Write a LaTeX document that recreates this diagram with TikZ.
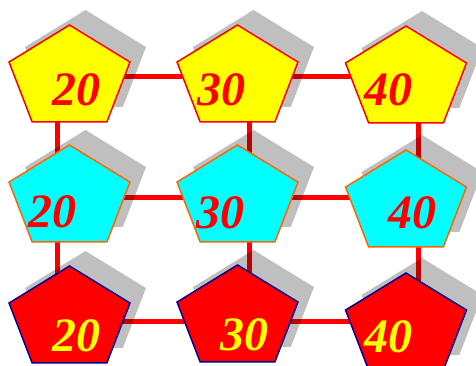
\documentclass[tikz,border=0pt]{standalone}
\usepackage{fontspec}
\setmainfont{Liberation Serif}
\usepackage{xcolor}
\usetikzlibrary{shapes.geometric, shadows, backgrounds}
\definecolor{pentyellow}{RGB}{255,255,0}
\definecolor{pentcyan}{RGB}{0,255,255}
\definecolor{pentred}{RGB}{255,0,0}
\definecolor{pentorange}{RGB}{255,102,0}
\definecolor{pentnavy}{RGB}{0,0,140}

\begin{document}
\begin{tikzpicture}[
  x=1pt, y=1pt,
  pent/.style={regular polygon, regular polygon sides=5, minimum size=107.2pt, inner sep=0pt,
    xscale=1.186, transform shape, line width=1.5pt,
    general shadow={shadow xshift=16pt, shadow yshift=15pt, fill=black, opacity=.25}},
  yellowpent/.style={pent, fill=pentyellow, draw=pentred},
  cyanpent/.style={pent, fill=pentcyan, draw=pentorange},
  redpent/.style={pent, fill=pentred, draw=pentnavy},
  num/.style={inner sep=0pt, font=\bfseries\itshape\fontsize{48}{48}\selectfont},
  link/.style={-, draw=pentred, line width=5pt}
]
\useasboundingbox (0,0) rectangle (476,365);

\node[yellowpent] (top1) at (69.5, 286.4) {};
\node[yellowpent] (top2) at (237.5, 286.4) {};
\node[yellowpent] (top3) at (406, 285.4) {};
\node[cyanpent] (mid1) at (69.5, 166.4) {};
\node[cyanpent] (mid2) at (237.5, 166.4) {};
\node[cyanpent] (mid3) at (406, 161.4) {};
\node[redpent] (bot1) at (69.5, 45.4) {};
\node[redpent] (bot2) at (237.5, 46.4) {};
\node[redpent] (bot3) at (406, 38.4) {};

\node[num, text=pentred] (ttop1) at (76, 275.5) {20};
\node[num, text=pentred] (ttop2) at (221, 275) {30};
\node[num, text=pentred] (ttop3) at (388, 275) {40};
\node[num, text=pentred] (tmid1) at (52, 153) {20};
\node[num, text=pentred] (tmid2) at (220, 152.5) {30};
\node[num, text=pentred] (tmid3) at (412.5, 152.5) {40};
\node[num, text=pentyellow] (tbot1) at (76, 29.5) {20};
\node[num, text=pentyellow] (tbot2) at (244, 30) {30};
\node[num, text=pentyellow] (tbot3) at (388, 28.5) {40};

\begin{scope}[on background layer]
\draw [link] ([yshift=2.6pt]top1.center) -- ([yshift=2.6pt]top2.center);
\draw [link] ([yshift=2.6pt]top2.center) -- ([yshift=2.6pt]top2.center -| top3.center);
\draw [link] ([yshift=1.3pt]mid1.center) -- ([yshift=1.3pt]mid2.center);
\draw [link] ([yshift=1.3pt]mid2.center) -- ([yshift=1.3pt]mid2.center -| mid3.center);
\draw [link] ([yshift=-2.1pt]bot1.center) -- ([yshift=-2.1pt]bot1.center -| bot2.center);
\draw [link] ([yshift=-2.1pt]bot1.center -| bot2.center) -- ([yshift=-2.1pt]bot1.center -| bot3.center);
\draw [link] ([xshift=-12.5pt]top1.center) -- ([xshift=-12.5pt]mid1.center);
\draw [link] ([xshift=-12.5pt]mid1.center) -- ([xshift=-12.5pt]bot1.center);
\draw [link] ([xshift=11.5pt]top2.center) -- ([xshift=11.5pt]mid2.center);
\draw [link] ([xshift=11.5pt]mid2.center) -- ([xshift=11.5pt]bot2.center);
\draw [link] ([xshift=12pt]top3.center) -- ([xshift=12pt]mid3.center);
\draw [link] ([xshift=12pt]mid3.center) -- ([xshift=12pt]bot3.center);
\end{scope}

\end{tikzpicture}
\end{document}
